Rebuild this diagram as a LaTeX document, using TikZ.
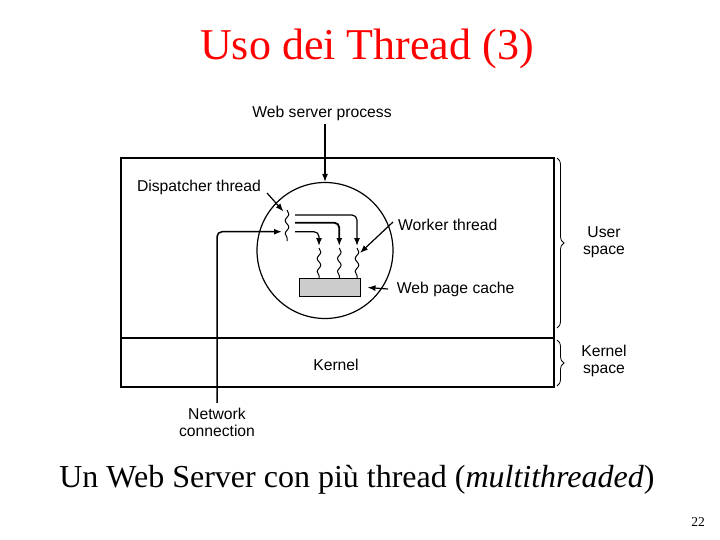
\documentclass[tikz,border=0pt]{standalone}
\usepackage{fontspec}
\setmainfont{Liberation Serif}
\newfontfamily\helv{Liberation Sans}
\usetikzlibrary{arrows.meta,decorations.pathmorphing,decorations.pathreplacing}

\begin{document}
\begin{tikzpicture}[x=1pt,y=-1pt]
\tikzset{etich/.style={font=\helv\fontsize{15.7}{17.5}\selectfont, inner sep=0pt},
  freccia/.style={-{Latex[length=8pt,width=6pt]}, line width=1.2pt},
  filo/.style={decorate, decoration={snake, amplitude=1.8pt, segment length=13pt}, line width=1pt},
  graffa/.style={decorate, decoration={brace, amplitude=7pt}, line width=0.8pt}}
\useasboundingbox (0,0) rectangle (720,540);
\node[text=red, font=\fontsize{44}{48}\selectfont] (titolo) at (367,49) {Uso dei Thread (3)};
% processo e spazi
\draw[line width=1.5pt] (121,158) rectangle (554,387);
\draw[line width=1.5pt] (121,338) -- (554,338);
\node[draw, circle, minimum size=136pt, line width=1.2pt] (processo) at (325,250.5) {};
\node[draw, fill=gray!40, minimum width=61pt, minimum height=18.5pt, inner sep=0pt, line width=1.2pt] (cache) at (329.7,287.5) {};
\node[etich] (wsp) at (322,113) {Web server process};
\node[etich] (disp) at (199,187) {Dispatcher thread};
\node[etich, anchor=west] (worker) at (398,225) {Worker thread};
\node[etich, anchor=west] (cachetxt) at (396.7,289) {Web page cache};
\node[etich] (kernel) at (336,365) {Kernel};
\node[etich, align=center] (rete) at (217,422.5) {Network\\connection};
\node[etich, align=center] (utente) at (604,242) {User\\space};
\node[etich, align=center] (nucleo) at (604,361) {Kernel\\space};
\node[font=\fontsize{32}{36}\selectfont] (didascalia) at (357,480) {Un Web Server con più thread (\textit{multithreaded})};
\node[font=\fontsize{13.5}{14}\selectfont] (pagina) at (698,522) {22};
% thread
\coordinate (wspgiu) at (325,124);
\coordinate (dispda) at (267,193);
\coordinate (dispa) at (283.5,211.5);
\coordinate (dsu) at (287,210);
\coordinate (dgiu) at (287,241);
\coordinate (reteA) at (282,231.7);
\coordinate (wda) at (393,222);
\coordinate (wa) at (360,253);
\draw[freccia] (wspgiu) -- (processo.north);
\draw[freccia] (dispda) -- (dispa);
\draw[filo] (dsu) -- (dgiu);
\draw[freccia, rounded corners=5pt] (295,215) -| (357,246);
\draw[freccia, line width=1.8pt, rounded corners=5pt] (295,222.7) -| (339.3,246);
\draw[freccia, rounded corners=5pt] (295,231.7) -| (319,246);
\foreach \x in {319,339.3,357}
  \draw[filo] (\x,248) -- (\x,278);
\draw[freccia] (wda) -- (wa);
\draw[freccia] ([xshift=-8.7pt]cachetxt.west) -- ([xshift=6.7pt]cache.east);
\draw[freccia, line width=1.5pt, rounded corners=5pt] ([yshift=5pt]rete.north) |- (reteA);
% graffe
\draw[graffa] (557,158) -- (557,328);
\draw[graffa] (557,340) -- (557,386);
\end{tikzpicture}
\end{document}
